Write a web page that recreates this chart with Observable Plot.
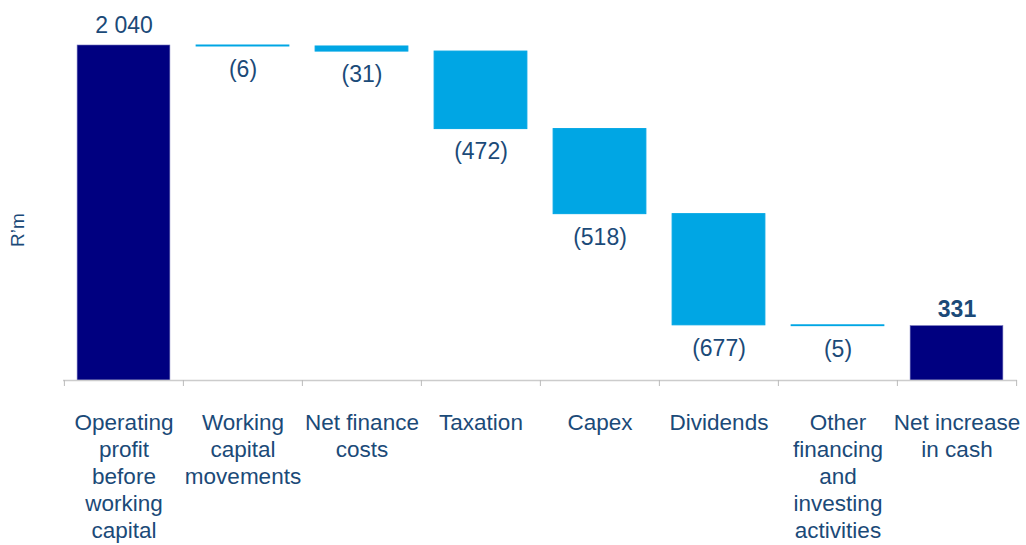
<!DOCTYPE html>
<html>
<head>
<meta charset="utf-8">
<script src="https://cdn.jsdelivr.net/npm/d3@7"></script>
<script src="https://cdn.jsdelivr.net/npm/@observablehq/plot@0.6"></script>
<style>
  html, body { margin: 0; padding: 0; background: #fff; }
  #chart { width: 1026px; height: 545px; }
</style>
</head>
<body>
<div id="chart"></div>
<script>
const categories = ["Operating profit before working capital", "Working capital movements", "Net finance costs", "Taxation", "Capex", "Dividends", "Other financing and investing activities", "Net increase in cash"];
const tickLabels = ["Operating\nprofit\nbefore\nworking\ncapital", "Working\ncapital\nmovements", "Net finance\ncosts", "Taxation", "Capex", "Dividends", "Other\nfinancing\nand\ninvesting\nactivities", "Net increase\nin cash"];
const values = [2040, -6, -31, -472, -518, -677, -5, 331];
const isTotal = [true, false, false, false, false, false, false, true];

const navy = "#000080";
const light = "#00a6e4";
const textColor = "#1b4a78";

// build waterfall rows
let running = 0;
const fmt = v => d3.format(",")(v).replace(/,/g, " ");
const rows = categories.map((c, i) => {
  let y1, y2;
  if (isTotal[i]) { y1 = 0; y2 = values[i]; running = values[i]; }
  else { y1 = running; y2 = running + values[i]; running = y2; }
  const v = values[i];
  const label = v < 0 ? `(${fmt(-v)})` : fmt(v);
  return {cat: c, y1, y2, total: isTotal[i], label, top: Math.max(y1, y2), bottom: Math.min(y1, y2), i};
});

const W = 1026, H = 545;
const mL = 63, mR = 9;
const step = (W - mL - mR) / categories.length;
const inset = (step - 93) / 2;
const last = categories.length - 1;

const plot = Plot.plot({
  width: W,
  height: H,
  marginLeft: mL,
  marginRight: mR,
  marginTop: 45,
  marginBottom: 165,
  style: {fontFamily: "'Liberation Sans', Arial, sans-serif", fontSize: "22px", color: textColor, background: "#fff", overflow: "visible"},
  x: {domain: categories, padding: 0},
  y: {domain: [0, 2040], axis: null},
  marks: [
    Plot.barY(rows.filter(d => d.total), {x: "cat", y1: "y1", y2: "y2", fill: navy, stroke: "#6f6fb8", strokeWidth: 0.6, insetLeft: inset, insetRight: inset}),
    Plot.barY(rows.filter(d => !d.total), {x: "cat", y1: "y1", y2: "y2", fill: light, stroke: light, strokeWidth: 1, insetLeft: inset, insetRight: inset}),
    // baseline
    Plot.ruleY([0], {stroke: "#cccccc", strokeWidth: 1.5}),
    // tick marks at band boundaries
    Plot.ruleX(categories, {x: d => d, y1: 0, y2: 0, dx: -step / 2, stroke: "#bbbbbb", insetBottom: -6}),
    Plot.ruleX([categories[last]], {x: d => d, y1: 0, y2: 0, dx: step / 2, stroke: "#bbbbbb", insetBottom: -6}),
    Plot.axisX({tickSize: 0, tickPadding: 30, lineHeight: 1.2, fill: textColor, fontSize: 22.5, label: null,
      tickFormat: d => tickLabels[categories.indexOf(d)]}),
    // value labels: totals above
    Plot.text(rows.filter(d => d.total && d.i !== last), {x: "cat", y: "top", text: "label", dy: -20, fill: textColor, fontSize: 23}),
    Plot.text(rows.filter(d => d.i === last), {x: "cat", y: "top", text: "label", dy: -17, fill: textColor, fontSize: 23, fontWeight: "bold"}),
    // changes below
    Plot.text(rows.filter(d => !d.total), {x: "cat", y: "bottom", text: "label", dy: 23, fill: textColor, fontSize: 23}),
    // y label
    Plot.text(["R\u2019m"], {frameAnchor: "left", dx: -46, dy: 34, rotate: -90, fill: textColor, fontSize: 19})
  ]
});
document.getElementById("chart").appendChild(plot);
</script>
</body>
</html>
